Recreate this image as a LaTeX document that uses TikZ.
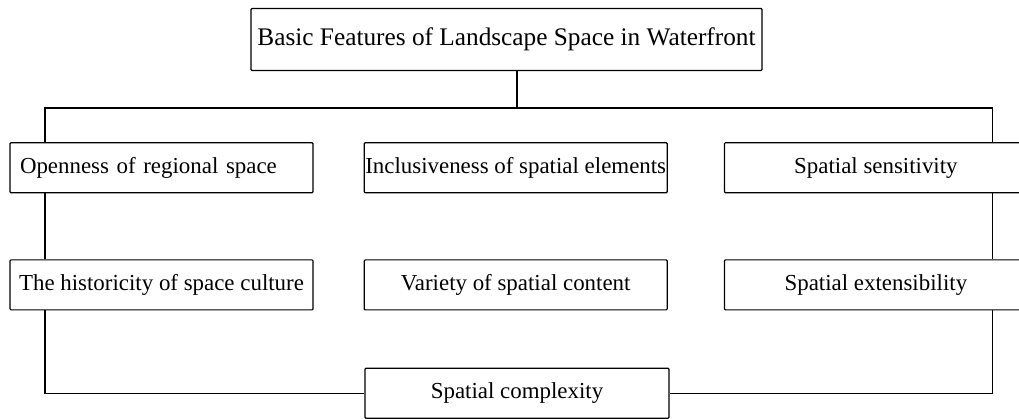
\documentclass[tikz,border=0pt]{standalone}
\usepackage{fontspec}
\setmainfont{Liberation Serif}
\usepackage{tikz}
\usetikzlibrary{positioning}

\tikzset{
  featbox/.style={draw,rectangle,fill=white,line width=1.2pt,rounded corners=1pt,
    minimum width=303pt,minimum height=50pt,inner sep=0pt,
    font=\fontsize{22.9}{26}\selectfont},
  link/.style={line width=1.2pt}
}

\begin{document}
\begin{tikzpicture}[x=1pt,y=-1pt]
	\useasboundingbox (0,0) rectangle (1019,419);
	% Oberbegriff
	\node[featbox,minimum width=511pt,minimum height=62pt,font=\fontsize{25.3}{28}\selectfont] (basic) at (506.5,39.5) {Basic Features of Landscape Space in Waterfront};
	% erste Reihe
	\node[featbox,text width=283pt,inner xsep=10pt,align=left] (open) at (161.5,167.7) {Openness of regional space};
	\node[featbox,right=50pt of open] (incl) {Inclusiveness of spatial elements};
	\node[featbox,right=56pt of incl] (sens) {Spatial sensitivity};
	% zweite Reihe
	\node[featbox,below=66pt of open] (hist) {The historicity of space culture};
	\node[featbox,below=66pt of incl] (vari) {Variety of spatial content};
	\node[featbox,below=66pt of sens] (ext) {Spatial extensibility};
	% unten
	\node[featbox,minimum width=304pt] (cplx) at (517,393.3) {Spatial complexity};
	
	% Verbindungslinien
	\coordinate (bus) at (517,108);
	\coordinate (busL) at (45,108);
	\coordinate (busR) at (992.3,108);
	\draw[link] (bus |- basic.south) -- (bus);
	\draw[link] (busL |- open.north) -- (busL) -- (busR) -- (busR |- sens.north);
	\draw[link] (busL |- open.south) -- (busL |- hist.north);
	\draw[link] (busR |- sens.south) -- (busR |- ext.north);
	\draw[link] (busL |- hist.south) |- (cplx.west);
	\draw[link] (busR |- ext.south) |- (cplx.east);
\end{tikzpicture}
\end{document}
